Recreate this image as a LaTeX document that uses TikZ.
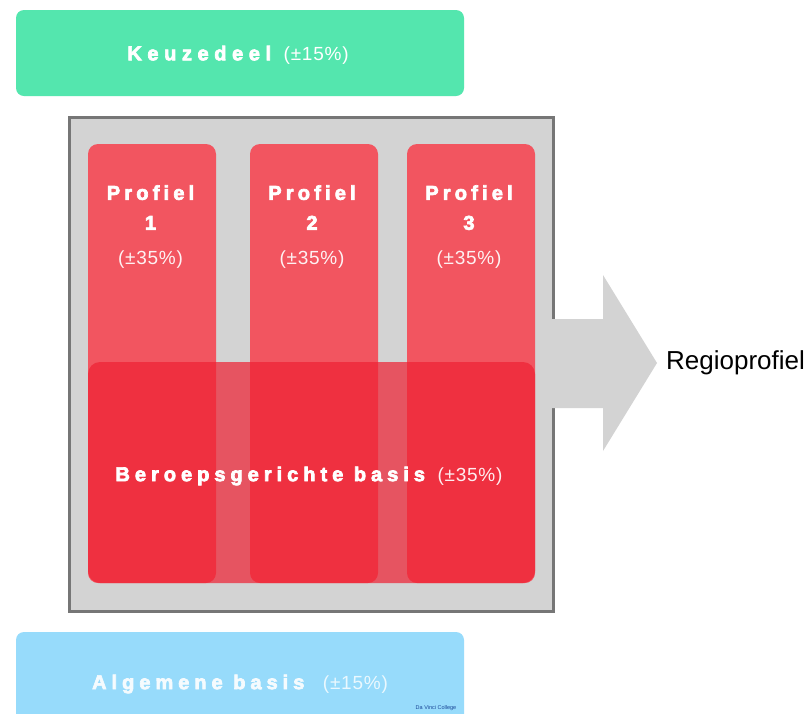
\documentclass[tikz,border=0pt]{standalone}
\usepackage{fontspec}
\setmainfont{Liberation Sans}
\definecolor{keuze}{RGB}{84,230,174}
\definecolor{algem}{RGB}{151,219,251}
\definecolor{frameg}{RGB}{211,211,211}
\definecolor{framed}{RGB}{118,118,118}
\definecolor{prof}{RGB}{242,85,96}
\definecolor{beroep}{RGB}{239,33,51}
\definecolor{college}{RGB}{25,70,150}
\newcommand\wideb[1]{\bfseries\addfontfeature{LetterSpace=#1,FakeBold=3.5}}
\newcommand\pct{\mdseries\fontsize{19}{23}\selectfont\addfontfeature{LetterSpace=4}}
\begin{document}
\begin{tikzpicture}[x=1pt,y=-1pt,
  band/.style={rounded corners=8pt, inner sep=0pt, minimum width=448pt},
  column/.style={fill=prof, rounded corners=10pt, inner sep=0pt, minimum width=128pt, minimum height=439pt},
  lbl/.style={text=white, align=center, inner sep=0pt, font=\fontsize{20}{24}\selectfont},
]
\clip (0,0) rectangle (809,713);
\fill[white] (0,0) rectangle (809,713);

% top band
\node[band, fill=keuze, minimum height=86pt] (keuze) at (240,53) {};
\node[lbl] (keuzet) at (238,55) {{\wideb{28}Keuzedeel}\hspace{7pt} {\pct(±15\%)}};

% gray frame
\node[fill=frameg, draw=framed, line width=3pt, inner sep=0pt,
  minimum width=484pt, minimum height=493.5pt] (frame) at (311.5,364.25) {};

% regio label
\node[anchor=west, inner sep=0pt, font=\fontsize{26}{30}\selectfont, text=black]
  (regio) at (666,363) {Regioprofiel};

% big arrow from frame to label
\fill[frameg] (549,319) -- (603,319) -- (603,275) -- (657,363) -- (603,451)
  -- (603,408) -- (549,408) -- cycle;

% profile columns
\node[column] (p1) at (152,363.5) {};
\node[column] (p2) at (314,363.5) {};
\node[column] (p3) at (471,363.5) {};

\node[lbl, font=\fontsize{20}{32}\selectfont] (p1t) at (150.5,227)
  {{\wideb{21}Profiel}\\[-2pt]{\wideb{21}1}\\[3pt]{\pct\color{white!92!prof}(±35\%)}};
\node[lbl, font=\fontsize{20}{32}\selectfont] (p2t) at (312,227)
  {{\wideb{21}Profiel}\\[-2pt]{\wideb{21}2}\\[3pt]{\pct\color{white!92!prof}(±35\%)}};
\node[lbl, font=\fontsize{20}{32}\selectfont] (p3t) at (469,227)
  {{\wideb{21}Profiel}\\[-2pt]{\wideb{21}3}\\[3pt]{\pct\color{white!92!prof}(±35\%)}};

% beroepsgerichte basis
\node[fill=beroep, fill opacity=0.71, rounded corners=12pt,
  inner sep=0pt, minimum width=447pt, minimum height=221pt] (beroep) at (311.5,472.5) {};
\node[lbl] (beroept) at (309,476)
  {{\wideb{25}Beroepsgerichte basis}\hspace{7pt} {\pct\color{white!92!beroep}(±35\%)}};

% bottom band
\node[band, fill=algem, minimum height=100pt] (algem) at (240,682) {};
\node[lbl, text=white!90!algem] (algemt) at (240,684)
  {{\wideb{25}Algemene basis}\hspace{13pt} {\pct\color{white!80!algem}(±15\%)}};

\node[font=\fontsize{5.5}{6}\selectfont, text=college, inner sep=0pt] (college) at (436,708) {Da Vinci College};
\end{tikzpicture}
\end{document}
